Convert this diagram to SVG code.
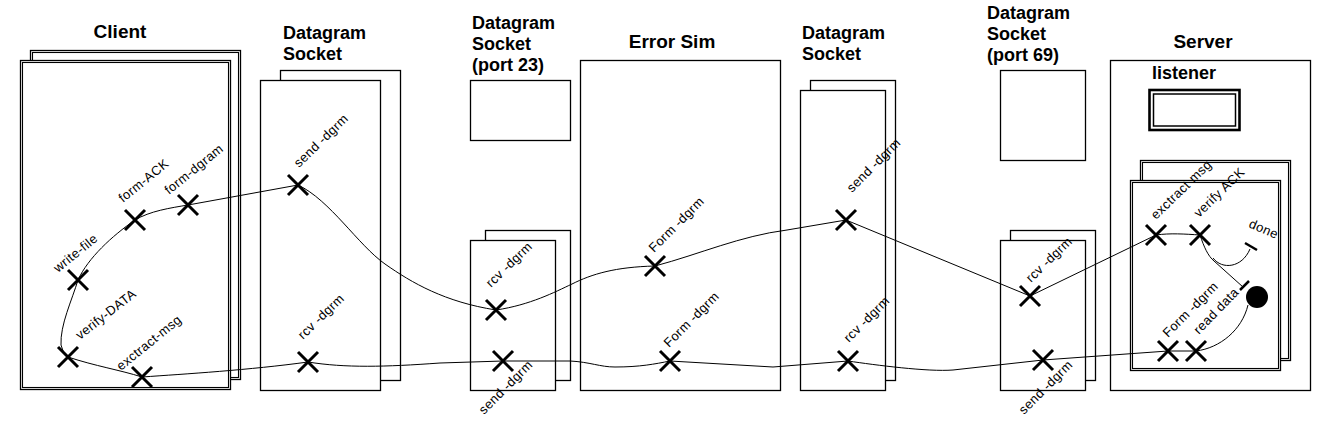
<svg xmlns="http://www.w3.org/2000/svg" xmlns:xlink="http://www.w3.org/1999/xlink" width="1341" height="424" viewBox="0 0 1341 424">
<style>
.box{fill:#fff;stroke:#000;stroke-width:1.3}
.thin{fill:none;stroke:#000;stroke-width:1.1}
.title{font-family:"Liberation Sans",Arial,sans-serif;font-weight:bold;font-size:18px;fill:#000}
.big{font-size:19px}
.lbl{font-family:"Liberation Sans",Arial,sans-serif;font-size:13px;letter-spacing:0.4px;fill:#000}
.x{fill:none;stroke:#000;stroke-width:3}
.conn{fill:none;stroke:#000;stroke-width:1}
.bar{stroke:#000;stroke-width:2.5}
</style>
<defs>
<path id="x" d="M-10,-10L10,10M-10,10L10,-10"/>
</defs>
<rect width="1341" height="424" fill="#fff"/>

<g id="client">
<text class="title big" x="120" y="38" text-anchor="middle">Client</text>
<rect class="box" x="30.5" y="50.5" width="210" height="329"/>
<rect class="thin" x="32.5" y="52.5" width="206" height="325"/>
<rect class="box" x="20.5" y="60.5" width="210" height="329"/>
<rect class="thin" x="22.5" y="62.5" width="206" height="325"/>
</g>

<g id="socket1">
<text class="title" x="283" y="39">Datagram</text>
<text class="title" x="283" y="60">Socket</text>
<rect class="box" x="280.5" y="70.5" width="120" height="310"/>
<rect class="box" x="260.5" y="80.5" width="120" height="310"/>
</g>

<g id="socket23">
<text class="title" x="472" y="29">Datagram</text>
<text class="title" x="472" y="50">Socket</text>
<text class="title" x="472" y="71">(port 23)</text>
<rect class="box" x="470.5" y="80.5" width="100" height="60"/>
<rect class="box" x="485.5" y="230.5" width="85" height="150"/>
<rect class="box" x="470.5" y="240.5" width="85" height="150"/>
</g>

<g id="errorsim">
<text class="title big" x="672" y="48" text-anchor="middle">Error Sim</text>
<rect class="box" x="580.5" y="60.5" width="200" height="330"/>
</g>

<g id="socket3">
<text class="title" x="802" y="39">Datagram</text>
<text class="title" x="802" y="60">Socket</text>
<rect class="box" x="810.5" y="80.5" width="85" height="300"/>
<rect class="box" x="800.5" y="90.5" width="85" height="300"/>
</g>

<g id="socket69">
<text class="title" x="987" y="19">Datagram</text>
<text class="title" x="987" y="40">Socket</text>
<text class="title" x="987" y="61">(port 69)</text>
<rect class="box" x="1000.5" y="70.5" width="85" height="90"/>
<rect class="box" x="1010.5" y="230.5" width="85" height="150"/>
<rect class="box" x="1000.5" y="240.5" width="85" height="150"/>
</g>

<g id="server">
<text class="title big" x="1203" y="48" text-anchor="middle">Server</text>
<rect class="box" x="1110.5" y="60.5" width="200" height="330"/>
<text class="title" x="1152" y="79">listener</text>
<rect x="1149.5" y="90" width="90" height="40" fill="none" stroke="#000" stroke-width="2.6"/>
<rect x="1153.5" y="94" width="82" height="32" fill="none" stroke="#000" stroke-width="1.5"/>
<rect class="box" x="1140.5" y="160.5" width="150" height="200"/>
<rect class="thin" x="1142.5" y="162.5" width="146" height="196"/>
<rect class="box" x="1130.5" y="180.5" width="150" height="190"/>
<rect class="thin" x="1132.5" y="182.5" width="146" height="186"/>
</g>

<g id="connectors">
<path class="conn" d="M78,280 C88,258 112,236 135,220 C150,211 170,208 188,205 L298,185 C330,200 358,245 385,264 C412,283 445,302 496,310 C530,305 555,292 572,284 C592,274 615,267 655,266 C700,254 740,236 787,230 L846,220 L1030,296 L1156,235 C1170,233 1185,234 1200,235"/>
<path class="conn" d="M1200,235 C1204,247 1208,256 1214,261 L1243,287"/>
<path class="conn" d="M1213,258 C1222,270 1242,268 1250,249"/>
<path class="conn" d="M78,280 C72,300 60,325 61,345 Q62,352 68,357 C95,366 120,370 142,377 C185,374 250,370 308,362 C345,368 385,367 440,363 L503,361 L570,361 C590,362 600,367 615,367 C640,367 655,364 670,361 L773,367 L848,361 C875,365 928,372 953,370 L1043,360 L1168,351 L1196,351 C1220,348 1242,330 1248,305"/>
<line class="bar" x1="1245" y1="243" x2="1257" y2="250"/>
<line class="bar" x1="1240" y1="290" x2="1249" y2="281"/>
<circle cx="1257" cy="297" r="11" fill="#000"/>
</g>

<g id="marks">
<use href="#x" class="x" x="135" y="220"/>
<use href="#x" class="x" x="188" y="205"/>
<use href="#x" class="x" x="78" y="280"/>
<use href="#x" class="x" x="68" y="357"/>
<use href="#x" class="x" x="142" y="377"/>
<use href="#x" class="x" x="298" y="185"/>
<use href="#x" class="x" x="308" y="362"/>
<use href="#x" class="x" x="496" y="310"/>
<use href="#x" class="x" x="503" y="361"/>
<use href="#x" class="x" x="655" y="266"/>
<use href="#x" class="x" x="670" y="361"/>
<use href="#x" class="x" x="846" y="220"/>
<use href="#x" class="x" x="848" y="361"/>
<use href="#x" class="x" x="1030" y="296"/>
<use href="#x" class="x" x="1043" y="360"/>
<use href="#x" class="x" x="1156" y="235"/>
<use href="#x" class="x" x="1200" y="235"/>
<use href="#x" class="x" x="1168" y="351"/>
<use href="#x" class="x" x="1196" y="351"/>
</g>

<g id="labels">
<text class="lbl" transform="translate(123,203) rotate(-39)">form-ACK</text>
<text class="lbl" transform="translate(169,195) rotate(-39)">form-dgram</text>
<text class="lbl" transform="translate(58,273) rotate(-39)">write-file</text>
<text class="lbl" transform="translate(80,340) rotate(-38)">verify-DATA</text>
<text class="lbl" transform="translate(121,371) rotate(-39)">exctract-msg</text>
<text class="lbl" transform="translate(299,168) rotate(-44)">send -dgrm</text>
<text class="lbl" transform="translate(303,340) rotate(-44)">rcv -dgrm</text>
<text class="lbl" transform="translate(491,288) rotate(-44)">rcv -dgrm</text>
<text class="lbl" transform="translate(484,415) rotate(-45)">send -dgrm</text>
<text class="lbl" transform="translate(654,253) rotate(-45)">Form -dgrm</text>
<text class="lbl" transform="translate(669,348) rotate(-45)">Form -dgrm</text>
<text class="lbl" transform="translate(852,193) rotate(-45)">send -dgrm</text>
<text class="lbl" transform="translate(849,343) rotate(-45)">rcv -dgrm</text>
<text class="lbl" transform="translate(1031,283) rotate(-44)">rcv -dgrm</text>
<text class="lbl" transform="translate(1024,415) rotate(-45)">send -dgrm</text>
<text class="lbl" transform="translate(1156,220) rotate(-44)">exctract msg</text>
<text class="lbl" transform="translate(1199,218) rotate(-44)">verify ACK</text>
<text class="lbl" transform="translate(1248,227) rotate(23)">done</text>
<text class="lbl" transform="translate(1168,338) rotate(-45)">Form -dgrm</text>
<text class="lbl" transform="translate(1199,335) rotate(-46)">read data</text>
</g>
</svg>
